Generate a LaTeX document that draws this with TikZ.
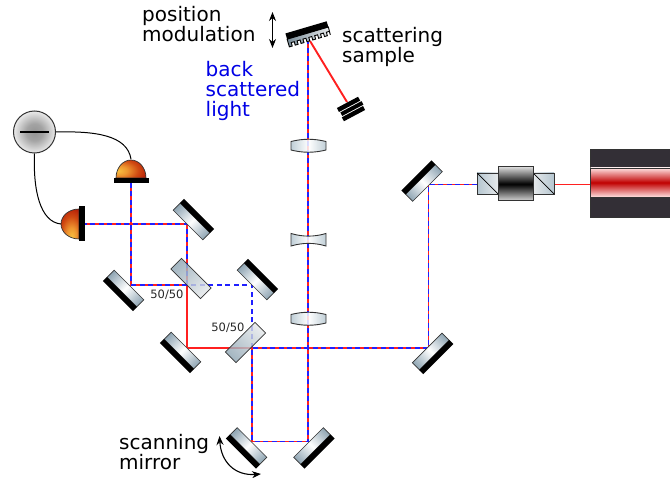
\documentclass[tikz,border=0pt]{standalone}
\usepackage{fontspec}
\setmainfont{DejaVu Sans}
\usetikzlibrary{arrows.meta}
\definecolor{steelA}{HTML}{8FA5B3}
\definecolor{steelB}{HTML}{B5C6D0}
\definecolor{steelL}{HTML}{E6E9EB}
\definecolor{frameC}{HTML}{333333}
\definecolor{laserC}{HTML}{332F36}
\definecolor{laserR}{HTML}{C00000}
\definecolor{beamR}{HTML}{FF2020}
\definecolor{beamB}{HTML}{2020FF}
\definecolor{detY}{HTML}{F8C040}
\definecolor{detO}{HTML}{EE9630}
\definecolor{detM}{HTML}{D04A12}
\definecolor{detR}{HTML}{B01404}
\pgfdeclareradialshading{detshade}{\pgfpoint{-22bp}{-5bp}}{color(0bp)=(detY);color(13bp)=(detO);color(28bp)=(detM);color(44bp)=(detR);color(100bp)=(detR)}
\pgfdeclareradialshading{subshade}{\pgfpoint{0bp}{0bp}}{color(0bp)=(black!42);color(10bp)=(black!36);color(25bp)=(black!8);color(32bp)=(white);color(100bp)=(white)}
\tikzset{
  redbeam/.style={draw=beamR,line width=1.9pt},
  bluebeam/.style={draw=beamB,line width=1.4pt,dash pattern=on 5pt off 3.5pt},
  blueonly/.style={draw=beamB,line width=1.2pt,dash pattern=on 5pt off 3.5pt},
  wire/.style={draw=black,line width=1pt},
  mirrorbody/.style={draw=frameC,line width=.7pt,left color=steelA,right color=steelA,middle color=white},
  splitbody/.style={draw=frameC,line width=.7pt,fill opacity=.82,left color=steelA,right color=steelL},
  lensbody/.style={draw=frameC,line width=.9pt,fill opacity=.85,left color=steelB,right color=steelB,middle color=white},
  label/.style={inner sep=0pt,anchor=north west,align=left,font=\fontsize{20}{20}\selectfont},
  small/.style={inner sep=0pt,font=\fontsize{11.5}{12}\selectfont,text=black!85},
  swing/.style={draw=black,line width=1.1pt,{Stealth[length=9pt,width=7pt]}-{Stealth[length=9pt,width=7pt]}}
}
\newcommand\bothbeam[1]{\draw[redbeam] #1; \draw[bluebeam] #1;}
\newcommand\mirrorat[3]{\begin{scope}[transform canvas={shift={(#1,#2)},rotate=#3}]
  \path[mirrorbody] (-21,0) rectangle (21,10);
  \fill[black] (-21.3,10) rectangle (21.3,15.7);
\end{scope}}
\newcommand\splitat[3]{\begin{scope}[transform canvas={shift={(#1,#2)},rotate=#3}]
  \path[splitbody] (-21,-7.5) rectangle (21,7.5);
\end{scope}}
\begin{document}
\begin{tikzpicture}[x=1pt,y=-1pt]
\useasboundingbox (0,0) rectangle (670,478);
% beam vertices
\coordinate (laserEnd) at (590,184.5);
\coordinate (isoR) at (555,184.5);
\coordinate (isoL) at (477,184.5);
\coordinate (mA) at (428.5,184.5);
\coordinate (mB) at (428.5,348);
\coordinate (bsB) at (252,348);
\coordinate (mC) at (252,441.5);
\coordinate (mD) at (308,441.5);
\coordinate (smp) at (308,42);
\coordinate (smpB) at (310,41);
\coordinate (dumpIn) at (347,102);
\coordinate (mE) at (187,348);
\coordinate (bsA) at (187,285);
\coordinate (mF) at (187,224);
\coordinate (detL) at (85,224);
\coordinate (mG) at (131,285);
\coordinate (detT) at (131,183);
\coordinate (mH) at (252,285);
% beams
\draw[redbeam] (laserEnd) -- (isoR);
\draw[redbeam] (bsB) -- (mE) -- (bsA);
\draw[redbeam] (smpB) -- (dumpIn);
\draw[blueonly] (bsB) -- (mH) -- (bsA);
\bothbeam{(isoL) -- (mA) -- (mB) -- (bsB) -- (mC) -- (mD) -- (smp)}
\bothbeam{(bsA) -- (mF) -- (detL)}
\bothbeam{(bsA) -- (mG) -- (detT)}
% mirrors
\mirrorat{427.5}{186.5}{225}
\mirrorat{427.2}{348}{45}
\mirrorat{252}{442.5}{315}
\mirrorat{308.5}{442.5}{45}
\mirrorat{186}{347}{315}
\mirrorat{188}{225}{135}
\mirrorat{129}{285}{315}
\mirrorat{252}{285}{135}
% beam splitters
\splitat{191}{278.5}{-45}
\splitat{245.5}{342.5}{45}
% lenses
\path[lensbody] (291,141.5) .. controls (303,138.5) and (314,138.5) .. (326,141.5) -- (326,150)
  .. controls (314,153) and (303,153) .. (291,150) -- cycle;
\path[lensbody] (291,233.5) .. controls (303,237) and (314,237) .. (326,233.5) -- (326,246)
  .. controls (314,242.5) and (303,242.5) .. (291,246) -- cycle;
\path[lensbody] (291,314.5) .. controls (303,311.5) and (314,311.5) .. (326,314.5) -- (326,323)
  .. controls (314,326) and (303,326) .. (291,323) -- cycle;
% sample
\begin{scope}[transform canvas={shift={(310,40.8)},rotate=16.4}]
  \draw[black,line width=.9pt,left color=steelA!85!black,right color=steelL] (-21.5,-8) -- (-21.5,0) foreach \k in {1,...,7} {-- ++(3,0) -- ++(0,-3.6) -- ++(3.1,0) -- ++(0,3.6)} -- (21.5,-8) -- cycle;
  \fill[black] (-21.5,-14) rectangle (21.5,-8);
\end{scope}
% beam dump
\begin{scope}[transform canvas={shift={(351,109)},rotate=28}]
  \fill[black] (-12,-7.5) rectangle (12,-3);
  \fill[black] (-11,-2) rectangle (13,2);
  \fill[black] (-12,3) rectangle (12,7.5);
\end{scope}
% detectors
\begin{scope}[transform canvas={shift={(131,178)}}]
  \path[draw=frameC,line width=.7pt,shading=detshade] (-15,0) arc[start angle=180,end angle=0,radius=15,y radius=-18] -- cycle;
  \fill[black] (-17.5,0) rectangle (17.5,5);
\end{scope}
\begin{scope}[transform canvas={shift={(79,224)},rotate=90}]
  \path[draw=frameC,line width=.7pt,shading=detshade] (-15,0) arc[start angle=180,end angle=0,radius=15,y radius=-18] -- cycle;
  \fill[black] (-17.5,0) rectangle (17.5,6);
\end{scope}
% subtractor
\node[circle,draw=frameC,line width=1pt,minimum size=42pt,inner sep=0pt,shading=subshade] (sub) at (34.5,132) {};
\draw[black,line width=1.6pt] (20,132) -- (49,132);
\coordinate (detTtop) at (131,159);
\coordinate (detLtop) at (61,224);
\draw[wire] (sub.east) .. controls (95,131) and (127,135) .. (detTtop);
\draw[wire] (sub.south) .. controls (33,190) and (40,222) .. (detLtop);
% isolator
\draw[frameC,line width=.9pt,left color=steelB,right color=steelL] (477,173) rectangle (498,194);
\draw[frameC,line width=.9pt,left color=steelL,right color=steelB] (533,173) rectangle (554,194);
\draw[black,line width=.7pt] (477,173) -- (498,194) (533,173) -- (554,194);
\draw[frameC,line width=1pt,top color=black!15,bottom color=black!15,middle color=black] (498,167) rectangle (533,201);
% laser
\draw[frameC,line width=.8pt,fill=laserC] (590.5,149) rectangle (671,217);
\draw[frameC,line width=.7pt,top color=red!12,bottom color=red!12,middle color=laserR] (590.5,168) rectangle (671,197);
% swing arrows
\coordinate (posT) at (272.5,12);
\coordinate (posB) at (272.5,48);
\draw[swing] (posT) -- (posB);
\coordinate (scanA) at (219.5,436);
\coordinate (scanB) at (261,474);
\draw[swing] (scanA) .. controls (221,462) and (235,476) .. (scanB);
% labels
\node[label] (tPos) at (142,6.5) {position\\modulation};
\node[label] (tScat) at (342,27.5) {scattering\\sample};
\node[label,text=blue!90!black] (tBack) at (205.5,61.5) {back\\scattered\\light};
\node[label] (tScan) at (119,434.5) {scanning\\mirror};
\node[small] (tA) at (167,295) {50/50};
\node[small] (tB) at (228,328) {50/50};
\end{tikzpicture}
\end{document}
